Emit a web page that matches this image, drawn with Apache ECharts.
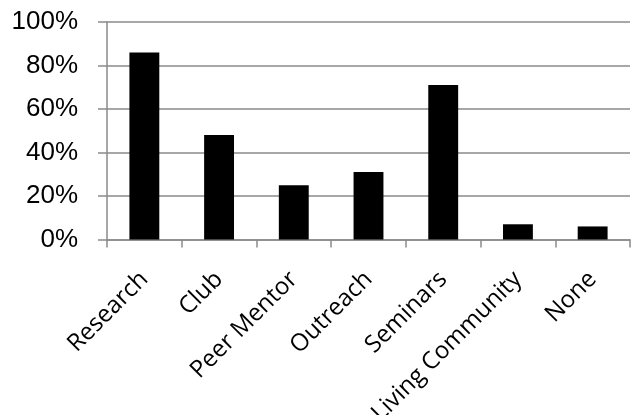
<!DOCTYPE html>
<html><head><meta charset="utf-8">
<script src="https://cdn.jsdelivr.net/npm/echarts@6/dist/echarts.min.js"></script>
<style>html,body{margin:0;padding:0;background:#fff}#c{width:632px;height:415px}</style>
</head><body><div id="c"></div>
<script>
const categories = ['Research','Club','Peer Mentor','Outreach','Seminars','Living Community','None'];
const values = [86, 48, 25, 31, 71, 7, 6];
const yTicks = [0, 20, 40, 60, 80, 100];

const chart = echarts.init(document.getElementById('c'), null, {renderer:'canvas'});
chart.setOption({
  animation:false,
  grid:{left:107, right:2, top:22, bottom:175.5, containLabel:false, outerBoundsMode:'none'},
  xAxis:{
    type:'category', data:categories, boundaryGap:true,
    axisLine:{lineStyle:{color:'#8a8a8a', width:1.5}},
    axisTick:{show:true, alignWithLabel:false, length:8, lineStyle:{color:'#8a8a8a', width:1.5}},
    axisLabel:{rotate:45, interval:0, margin:36, color:'#000', fontFamily:'Open Sans', fontSize:24}
  },
  yAxis:{
    type:'value', min:yTicks[0], max:yTicks[yTicks.length-1], interval:20,
    axisLine:{show:true, lineStyle:{color:'#8a8a8a', width:1.5}},
    axisTick:{show:true, length:9, lineStyle:{color:'#8a8a8a', width:1.5}},
    splitLine:{show:true, lineStyle:{color:'#8a8a8a', width:1.5}},
    axisLabel:{margin:29, color:'#000', fontFamily:'Liberation Sans', fontSize:26, formatter:v=>v+'%'}
  },
  series:[{type:'bar', data:values, barWidth:'40%', itemStyle:{color:'#000'}}]
});
</script></body></html>
